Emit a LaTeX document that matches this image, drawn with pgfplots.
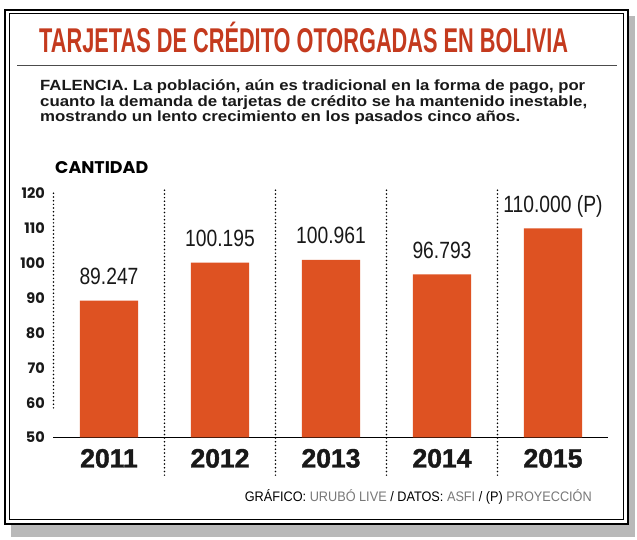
\documentclass[border=0pt]{standalone}
\usepackage{graphicx}
\usepackage{fontspec}
\setmainfont{Liberation Sans}
\newfontfamily\poppins{Poppins}
\newfontfamily\condfont[FakeStretch=0.82]{Liberation Sans}
\newfontfamily\yearfont[FakeBold=1.6]{Liberation Sans}
\usepackage{pgfplots}
\pgfplotsset{compat=1.18}
\usepackage{pgfplotstable}
\definecolor{barcol}{RGB}{222,82,34}
\definecolor{titlecol}{RGB}{196,58,30}
\definecolor{foottxt}{RGB}{120,120,120}
\pgfplotstableread{
x val label
0 89.247 89.247
1 100.195 100.195
2 100.961 100.961
3 96.793 96.793
4 110.000 {110.000 (P)}
}\datatable
\tikzset{sep/.style={black, line width=1.7pt, line cap=round, dash pattern=on 0pt off 3.7pt}}
\begin{document}
\begin{tikzpicture}[x=1pt,y=1pt]
\useasboundingbox (0,0) rectangle (637,540);
% shadow and frame
\fill[gray!55] (11,3) rectangle (635,524);
\draw[line width=1.8pt, fill=white] (5,16) rectangle (628,530);
\draw[line width=0.7pt] (9.5,20.5) rectangle (623.5,526.5);
% title
\node[anchor=base west, inner sep=0pt, text=titlecol] at (39,487)
  {\resizebox{529pt}{24pt}{\bfseries\fontsize{33}{33}\selectfont TARJETAS DE CR\smash{É}DITO OTORGADAS EN BOLIVIA}};
\draw[line width=0.6pt, gray!60!black] (17,475) -- (617,475);
% subtitle
\node[anchor=base west, inner sep=0pt, text=black!90] at (40,449.3)
  {\resizebox{545pt}{10.7pt}{\bfseries\fontsize{15}{15}\selectfont FALENCIA. La poblaci\smash{ó}n, a\smash{ú}n es tradicional en la forma de pago, por}};
\node[anchor=base west, inner sep=0pt, text=black!90] at (40,433.5)
  {\resizebox{547pt}{10.7pt}{\bfseries\fontsize{15}{15}\selectfont cuanto la demanda de tarjetas de cr\smash{é}dito se ha mantenido inestable,}};
\node[anchor=base west, inner sep=0pt, text=black!90] at (40,418)
  {\resizebox{480pt}{10.7pt}{\bfseries\fontsize{15}{15}\selectfont mostrando un lento crecimiento en los pasados cinco a\smash{ñ}os.}};
% CANTIDAD
\node[anchor=base west, inner sep=0pt] at (55,366)
  {\resizebox{93pt}{12pt}{\poppins\bfseries\fontsize{17}{17}\selectfont CANTIDAD}};
% footer
\node[anchor=base east, inner sep=0pt] at (592,38.3)
  {\resizebox{347pt}{10pt}{\fontsize{14}{14}\selectfont GR\smash{Á}FICO: \textcolor{foottxt}{URUB\smash{Ó} LIVE} / DATOS: \textcolor{foottxt}{ASFI} / (P) \textcolor{foottxt}{PROYECCI\smash{Ó}N}}};
\begin{axis}[
  at={(53.5pt,102.5pt)}, anchor=south west,
  scale only axis, width=555pt, height=244pt,
  xmin=-0.5, xmax=4.5, ymin=50, ymax=120,
  clip=false,
  axis x line*=bottom, axis y line*=left,
  x axis line style={-, black, line width=0.7pt},
  y axis line style={draw=none},
  major tick length=0pt, tick style={draw=none},
  xtick={0,1,2,3,4},
  xticklabels={2011,2012,2013,2014,2015},
  xticklabel style={anchor=base, inner sep=0pt, yshift=-30pt, text=black!90,
    font=\yearfont\bfseries\fontsize{26.5}{26.5}\selectfont},
  ytick={50,60,...,120},
  yticklabel style={anchor=east, inner sep=0pt, xshift=-8.5pt, text=black!90,
    font=\poppins\bfseries\fontsize{14.5}{14.5}\selectfont},
  /pgf/number format/assume math mode=true,
  ybar, bar width=58pt,
  nodes near coords,
  point meta=explicit symbolic,
  nodes near coords style={anchor=base, inner sep=0pt, yshift=16pt, text=black!90,
    font=\condfont\fontsize{23.5}{23.5}\selectfont},
]
\addplot[fill=barcol, draw=none] table[x=x, y=val, meta=label] {\datatable};
\draw[sep] (axis cs:-0.5,58.5) -- (axis cs:-0.5,121);
\draw[sep] (axis cs:0.5,39.2) -- (axis cs:0.5,121);
\draw[sep] (axis cs:1.5,39.2) -- (axis cs:1.5,121);
\draw[sep] (axis cs:2.5,39.2) -- (axis cs:2.5,121);
\draw[sep] (axis cs:3.5,39.2) -- (axis cs:3.5,121);
\end{axis}
\end{tikzpicture}
\end{document}
